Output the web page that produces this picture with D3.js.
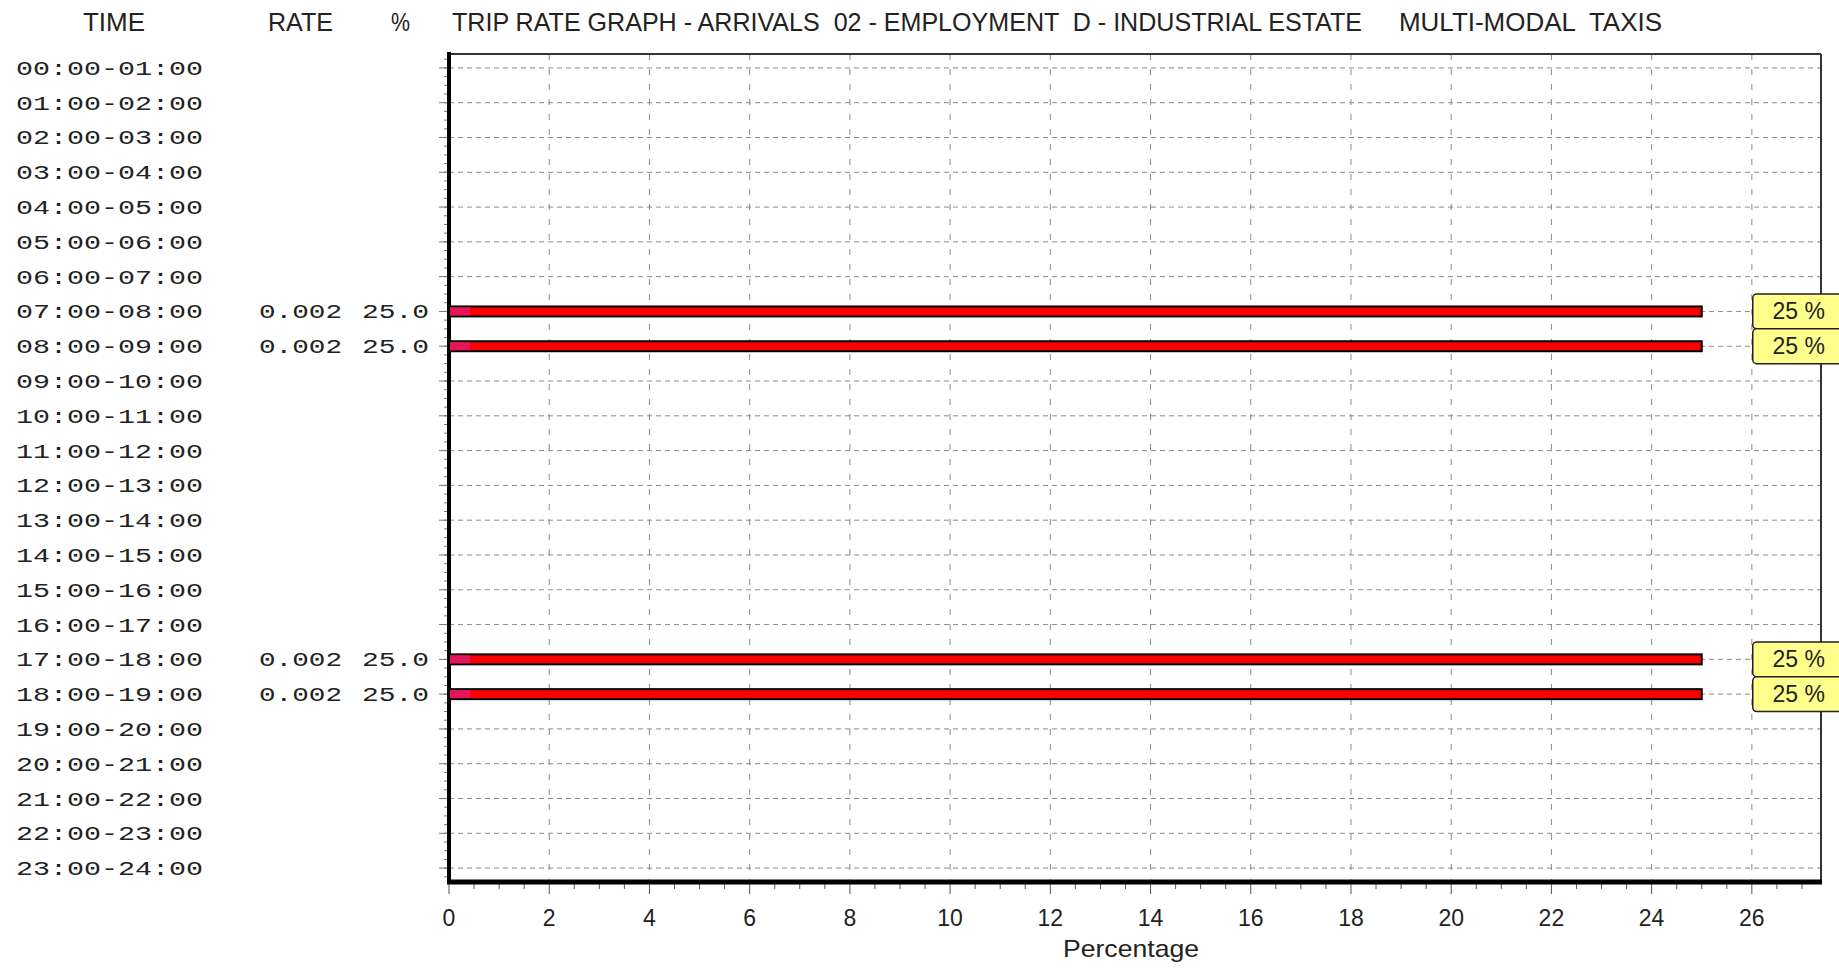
<!DOCTYPE html>
<html><head><meta charset="utf-8">
<script src="https://cdn.jsdelivr.net/npm/d3@7"></script>
<style>body{margin:0;background:#fff;} svg{display:block;}</style>
</head><body>
<svg id="c" width="1839" height="969"></svg>
<script>
const times = ["00:00-01:00","01:00-02:00","02:00-03:00","03:00-04:00","04:00-05:00","05:00-06:00",
"06:00-07:00","07:00-08:00","08:00-09:00","09:00-10:00","10:00-11:00","11:00-12:00","12:00-13:00",
"13:00-14:00","14:00-15:00","15:00-16:00","16:00-17:00","17:00-18:00","18:00-19:00","19:00-20:00",
"20:00-21:00","21:00-22:00","22:00-23:00","23:00-24:00"];
const rates = [null,null,null,null,null,null,null,0.002,0.002,null,null,null,null,null,null,null,null,0.002,0.002,null,null,null,null,null];
const percents = [0,0,0,0,0,0,0,25,25,0,0,0,0,0,0,0,0,25,25,0,0,0,0,0];
const leadSegment = 0.4; // dark leading part of each bar (percentage units)
const xTicks = [0,2,4,6,8,10,12,14,16,18,20,22,24,26];
const headers = ["TIME","RATE","%"];
const title = "TRIP RATE GRAPH - ARRIVALS  02 - EMPLOYMENT  D - INDUSTRIAL ESTATE";
const subtitle = "MULTI-MODAL  TAXIS";
const xLabel = "Percentage";

const svg = d3.select("#c");
const L = 449, R = 1821, T = 54, B = 882;
const x = d3.scaleLinear().domain([0, 27.38]).range([L, R]);
const y = d3.scalePoint().domain(times).range([T, B]).padding(0.4);
const step = y.step();
const sansNarrow = "'Liberation Sans Narrow','Liberation Sans',Arial,sans-serif";
const mono = "'Liberation Mono','DejaVu Sans Mono',monospace";

// headers
const hdr = [{t:"TIME",x:83,w:62},{t:"RATE",x:268,w:65},{t:"%",x:391,w:19}];
svg.selectAll("text.hdr").data(hdr).enter().append("text").attr("class","hdr")
  .attr("x",d=>d.x).attr("y",31).attr("font-family",sansNarrow).attr("font-size",25)
  .attr("textLength",d=>d.w).attr("lengthAdjust","spacingAndGlyphs").attr("fill","#222").text(d=>d.t);
svg.append("text").attr("x",452).attr("y",31).attr("font-family",sansNarrow).attr("font-size",25)
  .attr("textLength",910).attr("lengthAdjust","spacingAndGlyphs").attr("fill","#222").attr("xml:space","preserve").text(title);
svg.append("text").attr("x",1399).attr("y",31).attr("font-family",sansNarrow).attr("font-size",25)
  .attr("textLength",263).attr("lengthAdjust","spacingAndGlyphs").attr("fill","#222").attr("xml:space","preserve").text(subtitle);

// grid
const g = svg.append("g");
g.selectAll("line.hg").data(times).enter().append("line")
  .attr("x1",L).attr("x2",R).attr("y1",d=>y(d)).attr("y2",d=>y(d))
  .attr("stroke","#8a8a8a").attr("stroke-width",1).attr("stroke-dasharray","5,4");
g.selectAll("line.vg").data(xTicks.filter(d=>d>0)).enter().append("line")
  .attr("x1",d=>x(d)).attr("x2",d=>x(d)).attr("y1",T).attr("y2",B)
  .attr("stroke","#8a8a8a").attr("stroke-width",1).attr("stroke-dasharray","6,9");

// left axis minor ticks (quarter rows)
const quarter = d3.range(0, times.length*4+1).map(i => y(times[0]) - step*0.5 + i*step/4).filter(v=>v>T+2 && v<B-2);
g.selectAll("line.lt").data(quarter).enter().append("line")
  .attr("x1",L-5).attr("x2",L).attr("y1",d=>d).attr("y2",d=>d).attr("stroke","#777").attr("stroke-width",1);
g.selectAll("line.lt2").data(times).enter().append("line")
  .attr("x1",L-10).attr("x2",L).attr("y1",d=>y(d)).attr("y2",d=>y(d)).attr("stroke","#777").attr("stroke-width",1);

// bottom ticks
const halfTicks = d3.range(0, 27.01, 0.5);
g.selectAll("line.bt").data(halfTicks).enter().append("line")
  .attr("x1",d=>x(d)).attr("x2",d=>x(d)).attr("y1",B).attr("y2",d=> (d%2===0)? B+12 : B+7)
  .attr("stroke","#555").attr("stroke-width",1);

// frame
svg.append("line").attr("x1",L).attr("x2",R).attr("y1",T).attr("y2",T).attr("stroke","#333").attr("stroke-width",2);
svg.append("line").attr("x1",R).attr("x2",R).attr("y1",T).attr("y2",B).attr("stroke","#333").attr("stroke-width",2);
svg.append("line").attr("x1",L).attr("x2",L).attr("y1",T-2).attr("y2",B+2).attr("stroke","#000").attr("stroke-width",4);
svg.append("line").attr("x1",L-2).attr("x2",R+1).attr("y1",B).attr("y2",B).attr("stroke","#000").attr("stroke-width",5);

// bars
const rows = times.map((t,i)=>({t, rate:rates[i], pct:percents[i]})).filter(d=>d.pct>0);
const bh = 10;
svg.selectAll("rect.bar").data(rows).enter().append("rect")
  .attr("x",x(0)).attr("y",d=>y(d.t)-bh/2).attr("width",d=>x(d.pct)-x(0)).attr("height",bh)
  .attr("fill","#ff0000").attr("stroke","#000").attr("stroke-width",2);
svg.selectAll("rect.lead").data(rows).enter().append("rect")
  .attr("x",x(0)+1).attr("y",d=>y(d.t)-bh/2+1).attr("width",x(leadSegment)-x(0)).attr("height",bh-2)
  .attr("fill","#e5155c");

// time labels
svg.selectAll("text.tl").data(times).enter().append("text")
  .attr("x",16).attr("y",d=>y(d)+7).attr("font-family",mono).attr("font-size",21)
  .attr("textLength",187).attr("lengthAdjust","spacingAndGlyphs").attr("fill","#222").text(d=>d);

// rate & percent labels
svg.selectAll("text.rt").data(rows).enter().append("text")
  .attr("x",259).attr("y",d=>y(d.t)+7).attr("font-family",mono).attr("font-size",21)
  .attr("textLength",83).attr("lengthAdjust","spacingAndGlyphs").attr("fill","#222").text(d=>d.rate.toFixed(3));
svg.selectAll("text.pt").data(rows).enter().append("text")
  .attr("x",362).attr("y",d=>y(d.t)+7).attr("font-family",mono).attr("font-size",21)
  .attr("textLength",67).attr("lengthAdjust","spacingAndGlyphs").attr("fill","#222").text(d=>d.pct.toFixed(1));

// value boxes
const bx = d3.select("svg").selectAll("g.vb").data(rows).enter().append("g");
bx.append("rect").attr("x",d=>x(d.pct)+51).attr("y",d=>y(d.t)-step/2).attr("width",100).attr("height",step)
  .attr("rx",4).attr("fill","#ffff8c").attr("stroke","#222").attr("stroke-width",1.5);
bx.append("text").attr("x",d=>x(d.pct)+97).attr("y",d=>y(d.t)+8).attr("text-anchor","middle")
  .attr("font-family",sansNarrow).attr("font-size",23).attr("fill","#222").text(d=>Math.round(d.pct)+" %");

// x tick labels
svg.selectAll("text.xt").data(xTicks).enter().append("text")
  .attr("x",d=>x(d)).attr("y",926).attr("text-anchor","middle").attr("font-family",sansNarrow)
  .attr("font-size",23).attr("fill","#222").text(d=>d);
svg.append("text").attr("x",1131).attr("y",957).attr("text-anchor","middle").attr("font-family",sansNarrow)
  .attr("font-size",24).attr("textLength",136).attr("lengthAdjust","spacingAndGlyphs").attr("fill","#222").text(xLabel);
</script>
</body></html>
